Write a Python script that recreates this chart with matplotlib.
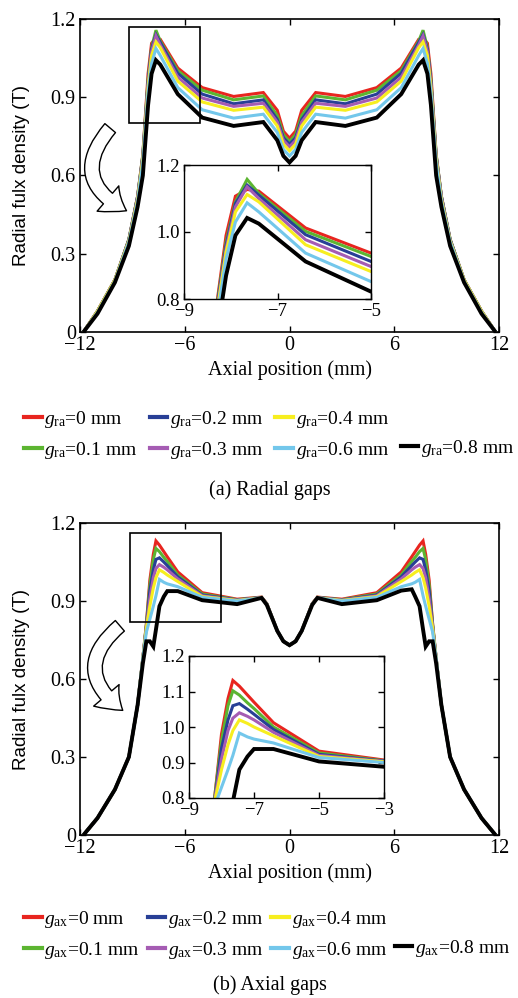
import matplotlib
matplotlib.use('Agg')
import matplotlib.pyplot as plt
from matplotlib.lines import Line2D
from matplotlib.patches import Rectangle, FancyArrowPatch

# ---------------- data ----------------
gap_labels = ['0', '0.1', '0.2', '0.3', '0.4', '0.6', '0.8']
colors = ['#e8251f', '#5cb531', '#283f96', '#a55cb3', '#f7ee1f', '#73c7eb', '#000000']

# (a) radial gaps
top_x = [-11.8, -11.0, -10.0, -9.2, -8.7, -8.4, -8.1, -7.9, -7.65, -7.4, -6.4, -5.0, -3.2, -1.5, -0.7, -0.35, 0.0,
         0.35, 0.7, 1.5, 3.2, 5.0, 6.4, 7.4, 7.65, 7.9, 8.1, 8.4, 8.7, 9.2, 10.0, 11.0, 11.8]
top_ra0 = [0.0, 0.08, 0.20, 0.355, 0.52, 0.68, 0.99, 1.107, 1.127, 1.122, 1.012, 0.937, 0.903, 0.918, 0.85, 0.77, 0.743,
           0.77, 0.85, 0.918, 0.903, 0.937, 1.012, 1.122, 1.127, 1.107, 0.99, 0.68, 0.52, 0.355, 0.20, 0.08, 0.0]
top_ra1 = [0.0, 0.08, 0.20, 0.355, 0.52, 0.68, 0.97, 1.09, 1.157, 1.115, 1.002, 0.927, 0.89, 0.905, 0.83, 0.757, 0.73,
           0.757, 0.83, 0.905, 0.89, 0.927, 1.002, 1.115, 1.157, 1.09, 0.97, 0.68, 0.52, 0.355, 0.20, 0.08, 0.0]
top_ra2 = [0.0, 0.08, 0.20, 0.355, 0.52, 0.675, 0.96, 1.085, 1.14, 1.11, 0.992, 0.912, 0.875, 0.89, 0.815, 0.745, 0.72,
           0.745, 0.815, 0.89, 0.875, 0.912, 0.992, 1.11, 1.14, 1.085, 0.96, 0.675, 0.52, 0.355, 0.20, 0.08, 0.0]
top_ra3 = [0.0, 0.08, 0.20, 0.35, 0.515, 0.67, 0.95, 1.075, 1.135, 1.10, 0.977, 0.897, 0.865, 0.877, 0.805, 0.735, 0.71,
           0.735, 0.805, 0.877, 0.865, 0.897, 0.977, 1.10, 1.135, 1.075, 0.95, 0.67, 0.515, 0.35, 0.20, 0.08, 0.0]
top_ra4 = [0.0, 0.08, 0.20, 0.35, 0.51, 0.665, 0.94, 1.06, 1.112, 1.09, 0.962, 0.882, 0.85, 0.862, 0.79, 0.72, 0.695,
           0.72, 0.79, 0.862, 0.85, 0.882, 0.962, 1.09, 1.112, 1.06, 0.94, 0.665, 0.51, 0.35, 0.20, 0.08, 0.0]
top_ra6 = [0.0, 0.075, 0.195, 0.345, 0.50, 0.65, 0.92, 1.03, 1.087, 1.06, 0.937, 0.852, 0.82, 0.835, 0.765, 0.70, 0.675,
           0.70, 0.765, 0.835, 0.82, 0.852, 0.937, 1.06, 1.087, 1.03, 0.92, 0.65, 0.50, 0.345, 0.195, 0.075, 0.0]
top_ra8 = [0.0, 0.07, 0.19, 0.33, 0.48, 0.60, 0.87, 0.99, 1.042, 1.025, 0.912, 0.822, 0.79, 0.805, 0.735, 0.675, 0.65,
           0.675, 0.735, 0.805, 0.79, 0.822, 0.912, 1.025, 1.042, 0.99, 0.87, 0.60, 0.48, 0.33, 0.19, 0.07, 0.0]

# (b) axial gaps
bot_x = [-11.8, -11.0, -10.0, -9.2, -8.7, -8.4, -8.2, -8.0, -7.8, -7.65, -7.45, -7.2, -7.0, -6.4, -5.0, -3.0, -1.6,
         -1.3, -0.7, -0.35, 0.0, 0.35, 0.7, 1.3, 1.6, 3.0, 5.0, 6.4, 7.0, 7.2, 7.45, 7.65, 7.8, 8.0, 8.2, 8.4, 8.7,
         9.2, 10.0, 11.0, 11.8]
bot_ax0 = [0.0, 0.065, 0.175, 0.30, 0.50, 0.68, 0.81, 0.98, 1.08, 1.131, 1.115, 1.09, 1.07, 1.012, 0.932, 0.907, 0.915,
           0.89, 0.785, 0.745, 0.73, 0.745, 0.785, 0.89, 0.915, 0.907, 0.932, 1.012, 1.07, 1.09, 1.115, 1.131, 1.08,
           0.98, 0.81, 0.68, 0.50, 0.30, 0.175, 0.065, 0.0]
bot_ax1 = [0.0, 0.065, 0.175, 0.30, 0.50, 0.68, 0.81, 0.96, 1.06, 1.102, 1.09, 1.068, 1.052, 1.0, 0.927, 0.905, 0.914,
           0.889, 0.785, 0.745, 0.73, 0.745, 0.785, 0.889, 0.914, 0.905, 0.927, 1.0, 1.052, 1.068, 1.09, 1.102, 1.06,
           0.96, 0.81, 0.68, 0.50, 0.30, 0.175, 0.065, 0.0]
bot_ax2 = [0.0, 0.065, 0.175, 0.30, 0.50, 0.68, 0.80, 0.94, 1.02, 1.06, 1.066, 1.05, 1.036, 0.993, 0.923, 0.904, 0.913,
           0.888, 0.785, 0.745, 0.73, 0.745, 0.785, 0.888, 0.913, 0.904, 0.923, 0.993, 1.036, 1.05, 1.066, 1.06, 1.02,
           0.94, 0.80, 0.68, 0.50, 0.30, 0.175, 0.065, 0.0]
bot_ax3 = [0.0, 0.065, 0.175, 0.30, 0.50, 0.68, 0.80, 0.91, 0.99, 1.025, 1.04, 1.03, 1.02, 0.985, 0.92, 0.903, 0.913,
           0.888, 0.785, 0.745, 0.73, 0.745, 0.785, 0.888, 0.913, 0.903, 0.92, 0.985, 1.02, 1.03, 1.04, 1.025, 0.99,
           0.91, 0.80, 0.68, 0.50, 0.30, 0.175, 0.065, 0.0]
bot_ax4 = [0.0, 0.065, 0.175, 0.30, 0.50, 0.68, 0.795, 0.88, 0.95, 0.99, 1.02, 1.01, 1.0, 0.975, 0.917, 0.902, 0.912,
           0.887, 0.785, 0.745, 0.73, 0.745, 0.785, 0.887, 0.912, 0.902, 0.917, 0.975, 1.0, 1.01, 1.02, 0.99, 0.95,
           0.88, 0.795, 0.68, 0.50, 0.30, 0.175, 0.065, 0.0]
bot_ax6 = [0.0, 0.065, 0.175, 0.30, 0.50, 0.68, 0.78, 0.83, 0.88, 0.92, 0.983, 0.972, 0.966, 0.955, 0.914, 0.90, 0.912,
           0.887, 0.785, 0.745, 0.73, 0.745, 0.785, 0.887, 0.912, 0.90, 0.914, 0.955, 0.966, 0.972, 0.983, 0.92, 0.88,
           0.83, 0.78, 0.68, 0.50, 0.30, 0.175, 0.065, 0.0]
bot_ax8 = [0.0, 0.065, 0.175, 0.30, 0.50, 0.66, 0.745, 0.745, 0.725, 0.79, 0.88, 0.917, 0.938, 0.938, 0.903, 0.888,
           0.912, 0.885, 0.785, 0.745, 0.73, 0.745, 0.785, 0.885, 0.912, 0.888, 0.903, 0.94, 0.945, 0.917, 0.88, 0.79,
           0.725, 0.745, 0.745, 0.66, 0.50, 0.30, 0.175, 0.065, 0.0]

top_series = [top_ra0, top_ra1, top_ra2, top_ra3, top_ra4, top_ra6, top_ra8]
bot_series = [bot_ax0, bot_ax1, bot_ax2, bot_ax3, bot_ax4, bot_ax6, bot_ax8]

main_xticks = [-12, -6, 0, 6, 12]
main_xticklabels = ['\u221212', '\u22126', '0', '6', '12']
main_yticks = [0, 0.3, 0.6, 0.9, 1.2]
main_yticklabels = ['0', '0.3', '0.6', '0.9', '1.2']

top_inset_xticks = [-9, -7, -5]
top_inset_xticklabels = ['\u22129', '\u22127', '\u22125']
top_inset_yticks = [0.8, 1.0, 1.2]
top_inset_yticklabels = ['0.8', '1.0', '1.2']

bot_inset_xticks = [-9, -7, -5, -3]
bot_inset_xticklabels = ['\u22129', '\u22127', '\u22125', '\u22123']
bot_inset_yticks = [0.8, 0.9, 1.0, 1.1, 1.2]
bot_inset_yticklabels = ['0.8', '0.9', '1.0', '1.1', '1.2']

# ---------------- style ----------------
plt.rcParams['font.family'] = 'Liberation Serif'
plt.rcParams['mathtext.fontset'] = 'custom'
plt.rcParams['mathtext.rm'] = 'Liberation Serif'
plt.rcParams['mathtext.it'] = 'Liberation Serif:italic'
plt.rcParams['axes.linewidth'] = 1.2

W, H = 518, 998
fig = plt.figure(figsize=(W / 100, H / 100), dpi=100)


def px_rect(left, top, right, bottom):
    return [left / W, 1 - bottom / H, (right - left) / W, (bottom - top) / H]


def style_axes(ax, xt, xtl, yt, ytl, fs):
    ax.set_xticks(xt)
    ax.set_xticklabels(xtl)
    ax.set_yticks(yt)
    ax.set_yticklabels(ytl)
    ax.tick_params(direction='in', length=4, width=1.0, top=True, right=True,
                   labelsize=fs, pad=3)


def draw_lines(ax, x, series, lw):
    for vals, c in zip(series, colors):
        ax.plot(x, vals, color=c, lw=lw if c != '#000000' else lw + 0.6,
                solid_joinstyle='miter', solid_capstyle='butt')


def panel(main_px, inset_px, x, series, inset_xlim, inset_ticks, box, arrow_a, arrow_b,
          sub, legend_top, colsp, caption, caption_y):
    ax = fig.add_axes(px_rect(*main_px))
    draw_lines(ax, x, series, 2.2)
    ax.set_xlim(-12, 12)
    ax.set_ylim(0, 1.2)
    style_axes(ax, main_xticks, main_xticklabels, main_yticks, main_yticklabels, 14.5)
    ax.set_xlabel('Axial position (mm)', fontsize=14.5, labelpad=4)
    ax.set_ylabel('Radial fulx density (T)', fontsize=13.5, family='Liberation Sans')
    ax.yaxis.set_label_coords(-0.12, 0.5)

    # zoom box
    ax.add_patch(Rectangle((box[0], box[1]), box[2], box[3], fill=False,
                           ec='black', lw=1.2, zorder=5))

    ins = fig.add_axes(px_rect(*inset_px))
    draw_lines(ins, x, series, 2.2)
    ins.set_xlim(*inset_xlim)
    ins.set_ylim(0.8, 1.2)
    style_axes(ins, *inset_ticks, 13.5)
    for s in ins.spines.values():
        s.set_linewidth(1.0)

    arr = FancyArrowPatch((arrow_a[0] / W, 1 - arrow_a[1] / H), (arrow_b[0] / W, 1 - arrow_b[1] / H),
                          transform=fig.transFigure, connectionstyle='arc3,rad=0.65',
                          arrowstyle='simple,head_length=0.8,head_width=1.2,tail_width=0.5',
                          mutation_scale=20, fc='white', ec='black', lw=1.0)
    fig.add_artist(arr)

    handles = [Line2D([], [], color=c, lw=3) for c in colors]
    labels = [r'$g_{\mathrm{%s}}$=%s mm' % (sub, g) for g in gap_labels]
    blank = Line2D([], [], color='none')
    order_h = handles[:6] + [blank] + handles[6:]
    order_l = labels[:6] + [''] + labels[6:]
    fig.legend(order_h, order_l, ncol=4, loc='upper left',
               bbox_to_anchor=(24 / W, 1 - legend_top / H), frameon=False,
               fontsize=14, handlelength=0.9, handletextpad=0.15,
               columnspacing=colsp, labelspacing=0.5, borderpad=0, borderaxespad=0)

    fig.text(270 / W, 1 - caption_y / H, caption, ha='center', va='center', fontsize=14.5)


panel((80, 19, 499, 332), (184, 165, 371, 299), top_x, top_series, (-9, -5),
      (top_inset_xticks, top_inset_xticklabels, top_inset_yticks, top_inset_yticklabels),
      (-9.2, 0.8, 4.1, 0.37), (112, 126), (129, 212), 'ra', 409, 0.62, '(a) Radial gaps', 490)

panel((80, 523, 499, 835), (189, 656, 384, 798), bot_x, bot_series, (-9, -3),
      (bot_inset_xticks, bot_inset_xticklabels, bot_inset_yticks, bot_inset_yticklabels),
      (-9.15, 0.82, 5.2, 0.34), (122, 624), (125, 712), 'ax', 909, 0.4, '(b) Axial gaps', 985)

fig.savefig('out.png', dpi=100)
